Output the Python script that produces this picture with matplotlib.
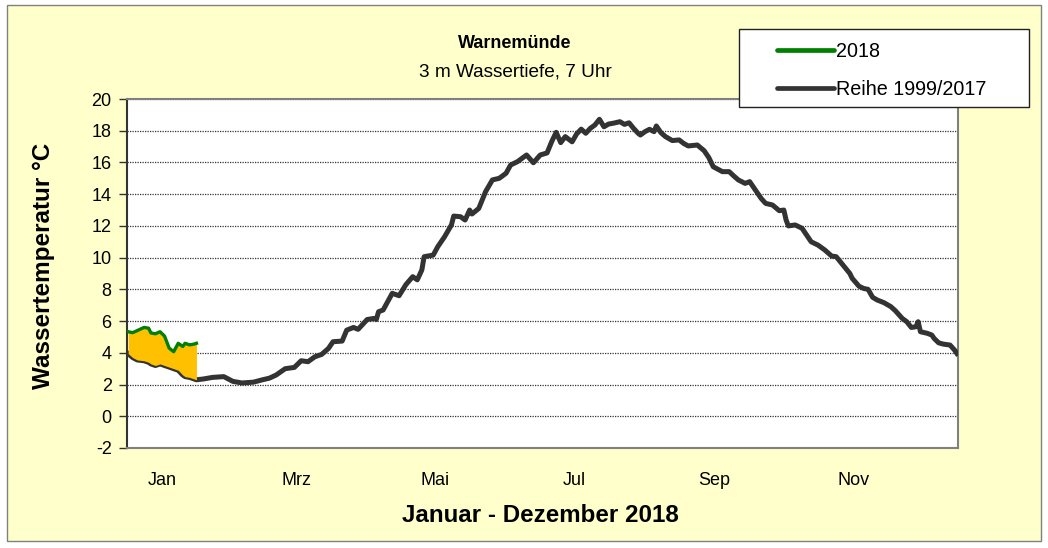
import numpy as np
import matplotlib.pyplot as plt
from matplotlib.patches import Rectangle
from matplotlib.lines import Line2D

plt.rcParams['font.family'] = ['Liberation Sans', 'DejaVu Sans']
plt.rcParams['axes.unicode_minus'] = False

# === Daten ===
# Januar 2018 und Mittel 1999/2017 an denselben Tagen
tage_jan = [1, 3, 5, 8, 10, 11, 13, 15, 17, 19, 21, 23, 25, 26, 28, 30, 31]
t2018 = [5.33, 5.27, 5.4, 5.6, 5.55, 5.25, 5.2, 5.33, 5.05, 4.3, 4.07, 4.6,
         4.4, 4.6, 4.5, 4.55, 4.6]
mittel_jan = [3.95, 3.7, 3.55, 3.5, 3.4, 3.3, 3.2, 3.3, 3.2, 3.1, 3.0, 2.9,
              2.6, 2.5, 2.45, 2.35, 2.3]

# Mittel 1999/2017 ab Februar
tage_rest = [34, 38, 43, 47, 51, 56, 60, 63, 66, 70, 74, 77, 80, 83, 86, 89, 91, 95, 97,
             100, 102, 106, 109, 110, 111, 113, 115, 117, 120, 123, 126, 128, 130, 131,
             135, 137, 140, 143, 144, 147, 149, 151, 152, 155, 158, 161, 164, 167, 169,
             172, 176, 178, 179, 182, 185, 187, 189, 191, 193, 196, 198, 200, 202, 204,
             206, 208, 210, 212, 214, 217, 219, 221, 223, 225, 226, 228, 230, 232, 233,
             235, 237, 240, 243, 245, 247, 251, 254, 256, 258, 262, 265, 267, 269, 272,
             274, 276, 279, 281, 284, 287, 289, 290, 291, 294, 297, 299, 301, 304, 307,
             310, 312, 315, 318, 319, 322, 324, 326, 328, 330, 333, 336, 338, 341, 343,
             345, 347, 348, 349, 352, 354, 355, 357, 359, 362, 364, 365]
mittel_rest = [2.35, 2.45, 2.5, 2.2, 2.1, 2.15, 2.3, 2.4, 2.6, 3.0, 3.08, 3.5, 3.44, 3.75,
               3.9, 4.28, 4.7, 4.74, 5.43, 5.6, 5.48, 6.1, 6.17, 6.1, 6.59, 6.7, 7.22,
               7.75, 7.6, 8.3, 8.8, 8.6, 9.22, 10.06, 10.16, 10.69, 11.32, 12.06, 12.62,
               12.58, 12.37, 13.0, 12.75, 13.1, 14.16, 14.9, 15.0, 15.32, 15.84, 16.05,
               16.47, 16.15, 15.98, 16.47, 16.6, 17.3, 17.9, 17.25, 17.63, 17.3, 17.8,
               18.1, 17.84, 18.15, 18.36, 18.72, 18.25, 18.42, 18.47, 18.57, 18.4, 18.5,
               18.15, 17.84, 17.73, 17.94, 18.09, 17.94, 18.3, 17.88, 17.63, 17.38,
               17.42, 17.2, 17.04, 17.1, 16.74, 16.32, 15.73, 15.42, 15.42, 15.15, 14.9,
               14.68, 14.79, 14.37, 13.74, 13.42, 13.32, 12.96, 13.0, 12.37, 12.0, 12.06,
               11.85, 11.42, 11.0, 10.79, 10.48, 10.1, 10.06, 9.53, 9.0, 8.7, 8.2, 8.06,
               8.0, 7.5, 7.33, 7.16, 6.91, 6.65, 6.17, 5.96, 5.6, 5.64, 5.96, 5.33, 5.23,
               5.12, 4.91, 4.63, 4.55, 4.49, 4.17, 3.96]

monate = ['Jan', 'Mrz', 'Mai', 'Jul', 'Sep', 'Nov']
monatslaengen = [31, 28, 31, 30, 31, 30, 31, 31, 30, 31, 30, 31]

tage_mittel = tage_jan + tage_rest
mittel = mittel_jan + mittel_rest

# Monatsmitte der ungeraden Monate
starts = np.cumsum([0] + monatslaengen[:-1])
mitten = [starts[i] + monatslaengen[i] / 2 + 0.5 for i in range(0, 12, 2)]

# === Plot ===
fig = plt.figure(figsize=(10.48, 5.48), dpi=100, facecolor='white')
hintergrund = Rectangle((7 / 1048, 1 - 541 / 548), 1034 / 1048, 536 / 548,
                        transform=fig.transFigure, facecolor='#FFFFCC',
                        edgecolor='#808080', linewidth=1, zorder=-10)
fig.patches.append(hintergrund)

ax = fig.add_axes([127 / 1048, 1 - 448 / 548, 831 / 1048, 349 / 548])
ax.set_facecolor('white')

ax.plot(tage_mittel, mittel, color='#333333', linewidth=3.6, zorder=3)
ax.fill_between(tage_jan, mittel_jan, t2018, color='#FFC000', linewidth=0, zorder=4)
ax.plot(tage_jan, t2018, color='#008000', linewidth=2.4, zorder=5)

ax.set_xlim(0.5, 365.5)
ax.set_ylim(-2, 20)
ax.set_yticks(np.arange(-2, 21, 2))
ax.set_xticks(mitten)
ax.set_xticklabels(monate)
ax.tick_params(axis='x', length=0, pad=17, labelsize=13)
ax.tick_params(axis='y', length=6, width=1, color='#333333', pad=5, labelsize=13)
ax.grid(axis='y', color='#333333', linestyle=(0, (1, 1)), linewidth=0.9)
ax.set_axisbelow(True)

for s in ['top', 'right', 'bottom']:
    ax.spines[s].set_color('#808080')
    ax.spines[s].set_linewidth(1.5)
ax.spines['left'].set_color('#333333')
ax.spines['left'].set_linewidth(1.5)

fig.text(515 / 1048, 1 - 43 / 548, 'Warnemünde', ha='center', va='center',
         fontsize=13, fontweight='bold')
fig.text(515 / 1048, 1 - 72 / 548, '3 m Wassertiefe, 7 Uhr', ha='center', va='center',
         fontsize=13.7)
fig.text(44 / 1048, 1 - 266 / 548, 'Wassertemperatur °C', ha='center', va='center',
         rotation=90, fontsize=17.5, fontweight='bold')
fig.text(540 / 1048, 1 - 515 / 548, 'Januar - Dezember 2018', ha='center', va='center',
         fontsize=17.4, fontweight='bold')

# Legende
legende_box = Rectangle((739 / 1048, 1 - 107 / 548), 290 / 1048, 78 / 548,
                        transform=fig.transFigure, facecolor='white',
                        edgecolor='#222222', linewidth=1, zorder=5)
fig.patches.append(legende_box)
handles = [Line2D([], [], color='#008000', linewidth=3.4, solid_capstyle='round'),
           Line2D([], [], color='#333333', linewidth=3.4, solid_capstyle='round')]
leg = fig.legend(handles, ['2018', 'Reihe 1999/2017'], loc='upper left',
                 bbox_to_anchor=(777 / 1048, 1 - 42 / 548), frameon=False,
                 fontsize=14.2, handlelength=2.9, handletextpad=0.1, labelspacing=0.95,
                 borderpad=0, borderaxespad=0)
leg.set_zorder(6)

fig.savefig('out.png', dpi=100, facecolor='white')
